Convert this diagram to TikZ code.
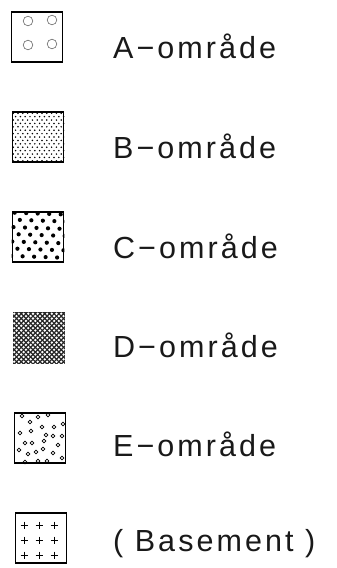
\documentclass[tikz,border=0pt]{standalone}
\usepackage{fontspec}
\usetikzlibrary{calc}
\setmainfont{Liberation Sans}[LetterSpace=10]
\begin{document}
\begin{tikzpicture}[x=1pt,y=-1pt,
  box/.style={draw, line width=1.6pt, minimum width=51pt, minimum height=50pt, inner sep=0pt},
  lbl/.style={anchor=base west, inner sep=0pt, font=\fontsize{30.5}{33}\selectfont, text=black!90},
  ring/.style={draw=black!60, line width=0.6pt}]
\useasboundingbox (0,0) rectangle (337,568);
% boxes
\node[box] (A) at (37,37) {};
\node[box] (B) at (38,137) {};
\node[box] (C) at (38,237) {};
\node[box] (D) at (39,338) {};
\node[box] (E) at (40,438) {};
\node[box] (F) at (41,538) {};
% A: four rings
\foreach \p in {(28,21),(52,20),(28,45),(52,44)} \draw[ring] \p circle (4.8pt);
% B: fine dots
\begin{scope}
\clip (B.south west) rectangle (B.north east);
\foreach \j in {0,...,15} \foreach \i in {0,...,11}
  \fill ($(B.north west)+({\i*4.8+mod(\j,2)*2.4+1.5},{\j*3.4+2})$) circle (0.85pt);
\end{scope}
% C: larger dots
\begin{scope}
\clip (C.south west) rectangle (C.north east);
\foreach \j in {0,...,7} \foreach \i in {0,...,5}
  \fill ($(C.north west)+({\i*11.5+mod(\j,2)*5.75+3-\j*0.6},{\j*7.2+1.5+\i*0.4})$) circle (2.1pt);
\end{scope}
% D: dense checker
\begin{scope}
\clip (D.south west) rectangle (D.north east);
\fill[black!85] (D.south west) rectangle (D.north east);
\foreach \j in {0,...,21} \foreach \i in {0,...,11}
  \fill[white] ($(D.north west)+({\i*4.7+mod(\j,2)*2.35+1.5},{\j*2.4+1.5})$) circle (1.3pt);
\end{scope}
% E: scattered rings
\foreach \p in {(22,416),(38,417),(48,415),(30,422),(54,427),(42,427),(63,424),(20,433),(31,431),(46,435),(53,436),(62,436),(25,443),(32,443),(44,441),(58,445),(19,450),(36,452),(43,449),(53,453),(28,454),(62,458),(38,461),(47,461),(25,462)}
  \draw[line width=0.7pt] \p circle (1.9pt);
% F: plus signs
\foreach \x in {24,39,54} \foreach \y in {525,540,555}
  \draw[line width=0.8pt] (\x-3.5,\y) -- (\x+3.5,\y) (\x,\y-3.5) -- (\x,\y+3.5);
% labels
\node[lbl] (tA) at (113,58) {A−område};
\node[lbl] (tB) at (113,158) {B−område};
\node[lbl] (tC) at (113,258) {C−område};
\node[lbl] (tD) at (113,357) {D−område};
\node[lbl] (tE) at (113,456) {E−område};
\node[lbl] (tF) at (113,551) {( Basement )};
\end{tikzpicture}
\end{document}
